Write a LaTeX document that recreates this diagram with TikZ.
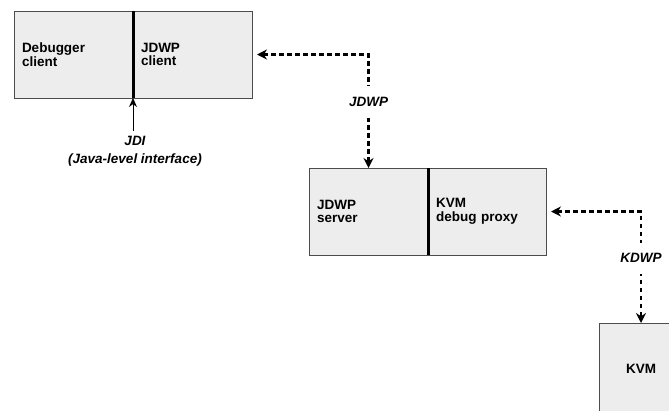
\documentclass[tikz,border=0pt]{standalone}
\usepackage{fontspec}
\setmainfont{Liberation Sans}
\usetikzlibrary{arrows.meta}
\begin{document}
\begin{tikzpicture}[x=1pt,y=-1pt,
  half/.style={draw=black!70, line width=0.9pt, fill=black!7, anchor=north west,
    minimum height=87pt, inner sep=0pt, outer sep=0pt, align=left,
    font=\fontsize{13.5}{13.5}\selectfont\bfseries},
  divider/.style={line width=3pt, black},
  link/.style={line width=2.2pt, dash pattern=on 4.5pt off 3.5pt, black,
    {Stealth[length=10pt,width=10pt]}-{Stealth[length=10pt,width=10pt]},
    shorten <=5pt},
  lab/.style={fill=white, inner xsep=3pt, inner ysep=11pt,
    font=\fontsize{13.5}{16}\selectfont\bfseries\itshape, align=center}]
\useasboundingbox (0,0) rectangle (669,410);
\clip (0,0) rectangle (669,410);
% box 1
\node[half, minimum width=119pt, text width=103pt] (dbg) at (14,11) {Debugger\\client};
\node[half, minimum width=119pt, text width=103pt] (jc) at (133,11) {JDWP\\client};
\draw[divider] (dbg.north east) -- (dbg.south east);
% box 2
\node[half, minimum width=119pt, text width=103pt] (js) at (309,168) {JDWP\\server};
\node[half, minimum width=118pt, text width=102pt] (proxy) at (428,168) {KVM\\debug proxy};
\draw[divider] (js.north east) -- (js.south east);
% box 3 (extends past the right and bottom edges)
\node[half, minimum width=84pt, minimum height=92pt, align=center, text width=82pt] (kvm) at (599,323) {KVM};
% JDI
\coordinate (jdi) at (133,131);
\draw[line width=1pt, -{Stealth[length=9pt,width=8pt]}] (jdi) -- (dbg.south east);
\node[font=\fontsize{13.5}{18}\selectfont\bfseries\itshape, align=center, anchor=north] (jdil) at (135,133) {JDI\\(Java-level interface)};
% JDWP link
\draw[link] (jc.east) -| node[lab, pos=0.71] (jdwpl) {JDWP} (js.north);
% KDWP link
\draw[link] (proxy.east) -| node[lab, pos=0.71] (kdwpl) {KDWP} (kvm.north);
\end{tikzpicture}
\end{document}
